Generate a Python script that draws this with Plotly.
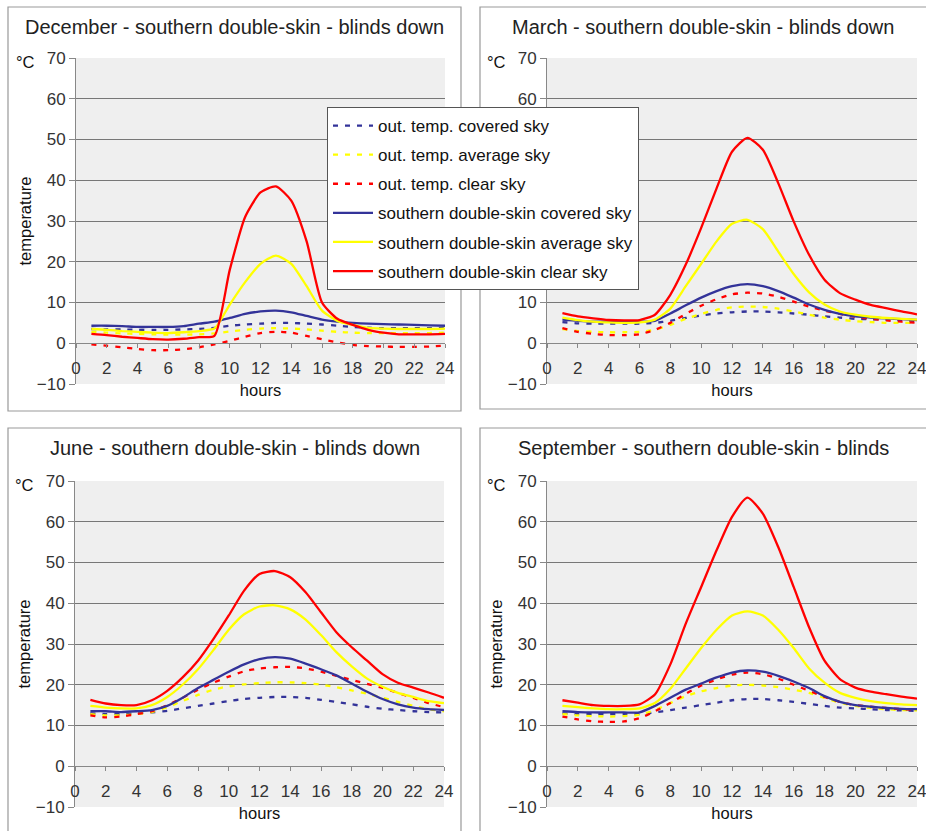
import plotly.graph_objects as go

hours = list(range(1, 25))

# December
dec_out_covered = [3.5, 3.4, 3.4, 3.3, 3.3, 3.3, 3.4, 3.5, 3.8, 4.3, 4.6, 4.8, 5.0, 5.0, 4.8, 4.6, 4.3, 4.0, 3.8, 3.7, 3.7, 3.7, 3.7, 3.7]
dec_out_average = [2.8, 2.6, 2.4, 2.3, 2.2, 2.1, 2.1, 2.2, 2.4, 2.9, 3.3, 3.6, 3.7, 3.6, 3.4, 3.1, 2.8, 2.6, 2.5, 2.5, 2.5, 2.5, 2.5, 2.6]
dec_out_clear = [-0.3, -0.6, -1.0, -1.4, -1.7, -1.7, -1.5, -1.0, -0.3, 0.6, 1.6, 2.5, 2.8, 2.6, 1.8, 1.0, 0.2, -0.4, -0.7, -0.8, -0.9, -0.9, -0.8, -0.6]
dec_ds_covered = [4.3, 4.3, 4.2, 4.0, 4.0, 4.0, 4.2, 4.8, 5.3, 6.2, 7.2, 7.8, 8.0, 7.6, 6.7, 5.8, 5.3, 5.0, 4.8, 4.7, 4.6, 4.5, 4.4, 4.3]
dec_ds_average = [3.5, 3.3, 3.0, 2.8, 2.6, 2.5, 2.7, 3.0, 3.6, 9.5, 15.0, 19.5, 21.5, 19.5, 14.0, 8.0, 5.5, 4.5, 3.8, 3.6, 3.5, 3.5, 3.5, 3.6]
dec_ds_clear = [2.3, 2.0, 1.6, 1.3, 1.0, 0.9, 1.1, 1.5, 1.8, 18.0, 31.0, 37.0, 38.5, 35.0, 25.0, 10.0, 6.0, 4.5, 3.3, 2.6, 2.2, 2.2, 2.2, 2.3]

# March
mar_out_covered = [5.2, 4.9, 4.8, 4.8, 4.8, 4.8, 5.0, 5.5, 6.2, 6.8, 7.3, 7.6, 7.8, 7.8, 7.6, 7.3, 7.0, 6.6, 6.3, 6.0, 5.9, 5.8, 5.6, 5.5]
mar_out_average = [3.5, 3.0, 2.8, 2.7, 2.7, 2.8, 3.3, 4.5, 6.0, 7.2, 8.2, 8.8, 9.0, 8.9, 8.5, 7.8, 7.0, 6.3, 5.8, 5.4, 5.2, 5.0, 5.0, 5.0]
mar_out_clear = [3.7, 2.8, 2.3, 2.0, 2.0, 2.2, 3.3, 5.0, 7.2, 9.2, 10.8, 12.0, 12.4, 12.2, 11.4, 10.2, 9.0, 8.0, 7.2, 6.5, 6.0, 5.6, 5.3, 5.0]
mar_ds_covered = [5.8, 5.5, 5.3, 5.3, 5.3, 5.3, 5.5, 7.3, 9.3, 11.2, 12.8, 14.0, 14.5, 14.0, 12.8, 11.2, 9.5, 8.2, 7.2, 6.6, 6.3, 6.1, 5.9, 5.7]
mar_ds_average = [6.3, 5.7, 5.3, 5.1, 5.0, 5.1, 5.8, 8.5, 14.0, 19.5, 25.0, 29.3, 30.3, 28.0, 22.5, 17.0, 12.5, 9.5, 7.8, 7.0, 6.5, 6.2, 6.0, 5.8]
mar_ds_clear = [7.4, 6.6, 6.1, 5.7, 5.6, 5.7, 7.0, 11.9, 19.3, 28.3, 38.0, 47.0, 50.4, 47.5, 39.3, 29.9, 21.7, 15.6, 12.3, 10.7, 9.4, 8.6, 7.8, 7.1]

# June
jun_out_covered = [13.0, 12.8, 12.8, 13.0, 13.2, 13.6, 14.2, 14.8, 15.4, 16.0, 16.5, 16.8, 17.0, 17.0, 16.8, 16.3, 15.8, 15.2, 14.6, 14.1, 13.8, 13.5, 13.3, 13.2]
jun_out_average = [12.8, 12.5, 12.5, 12.8, 13.3, 14.5, 16.0, 17.5, 18.8, 19.6, 20.1, 20.4, 20.6, 20.6, 20.4, 20.0, 19.4, 18.6, 17.8, 16.8, 15.8, 14.8, 14.0, 13.5]
jun_out_clear = [12.5, 12.0, 12.2, 12.8, 13.5, 15.0, 16.8, 18.8, 20.5, 22.0, 23.3, 24.0, 24.3, 24.4, 24.0, 23.2, 22.2, 21.2, 20.2, 19.2, 18.0, 16.8, 15.5, 14.5]
jun_ds_covered = [13.5, 13.5, 13.3, 13.5, 13.8, 14.8, 16.8, 19.2, 21.2, 23.2, 25.0, 26.3, 26.8, 26.4, 25.2, 23.8, 22.3, 20.3, 18.3, 16.5, 15.2, 14.4, 14.0, 13.8]
jun_ds_average = [14.8, 14.4, 14.2, 14.2, 15.0, 17.0, 20.0, 23.8, 28.5, 33.5, 37.3, 39.2, 39.5, 38.5, 36.0, 32.2, 28.0, 24.5, 21.5, 19.5, 18.0, 17.0, 16.0, 15.5]
jun_ds_clear = [16.3, 15.4, 15.0, 15.0, 16.2, 18.5, 21.8, 25.9, 31.2, 37.0, 43.1, 47.2, 47.9, 46.4, 42.7, 37.8, 32.9, 29.2, 25.9, 22.6, 20.5, 19.3, 18.1, 16.8]

# September
sep_out_covered = [13.0, 12.8, 12.8, 12.8, 12.8, 12.8, 13.2, 13.8, 14.4, 15.0, 15.6, 16.2, 16.5, 16.5, 16.2, 15.8, 15.3, 14.8, 14.4, 14.2, 14.0, 13.8, 13.7, 13.6]
sep_out_average = [12.8, 12.5, 12.3, 12.2, 12.3, 12.6, 13.8, 15.5, 17.2, 18.4, 19.2, 19.8, 20.0, 19.8, 19.4, 18.8, 18.0, 16.8, 15.6, 14.8, 14.3, 14.0, 13.8, 13.7]
sep_out_clear = [12.2, 11.5, 11.0, 10.9, 11.0, 11.8, 13.5, 15.5, 17.8, 19.8, 21.3, 22.5, 23.0, 22.6, 21.5, 20.0, 18.5, 17.0, 15.8, 15.0, 14.6, 14.3, 14.0, 13.8]
sep_ds_covered = [13.5, 13.3, 13.2, 13.2, 13.2, 13.2, 14.8, 16.8, 18.8, 20.3, 21.8, 23.0, 23.5, 23.2, 22.2, 20.8, 19.2, 17.2, 15.8, 15.0, 14.6, 14.3, 14.1, 14.0]
sep_ds_average = [14.8, 14.5, 14.2, 14.0, 14.0, 14.2, 15.5, 19.0, 24.0, 29.0, 33.5, 37.0, 38.0, 37.0, 33.5, 29.0, 24.0, 20.5, 18.0, 16.8, 16.0, 15.5, 15.2, 15.0]
sep_ds_clear = [16.2, 15.6, 15.0, 14.8, 14.8, 15.2, 17.6, 25.0, 35.0, 44.0, 53.0, 61.2, 65.9, 62.0, 53.8, 44.0, 34.1, 25.9, 21.4, 19.3, 18.3, 17.7, 17.1, 16.6]

series_names = [
    "out. temp. covered sky",
    "out. temp. average sky",
    "out. temp. clear sky",
    "southern double-skin covered sky",
    "southern double-skin average sky",
    "southern double-skin clear sky",
]
panel_titles = [
    "December - southern double-skin - blinds down",
    "March - southern double-skin - blinds down",
    "June - southern double-skin - blinds down",
    "September - southern double-skin - blinds",
]
x_ticks = list(range(0, 25, 2))
y_ticks = list(range(-10, 71, 10))

panels = [
    [dec_out_covered, dec_out_average, dec_out_clear, dec_ds_covered, dec_ds_average, dec_ds_clear],
    [mar_out_covered, mar_out_average, mar_out_clear, mar_ds_covered, mar_ds_average, mar_ds_clear],
    [jun_out_covered, jun_out_average, jun_out_clear, jun_ds_covered, jun_ds_average, jun_ds_clear],
    [sep_out_covered, sep_out_average, sep_out_clear, sep_ds_covered, sep_ds_average, sep_ds_clear],
]

W, H = 926, 831
FONT = "Liberation Sans, Arial, sans-serif"

colors = ["#333399", "#ffff00", "#ff0000", "#333399", "#ffff00", "#ff0000"]
dashes = ["5px,7px", "5px,7px", "5px,7px", "solid", "solid", "solid"]

# pixel geometry of each plot area: (left, right, top, bottom)
areas = [(76, 445, 58, 384), (547, 917, 58, 384), (75, 444, 481, 807), (547, 917, 481, 807)]
boxes = [(8, 461, 7, 411), (480, 930, 7, 409), (8, 461, 428, 840), (480, 930, 428, 840)]

fig = go.Figure()
layout = dict(
    width=W, height=H, autosize=False,
    margin=dict(l=0, r=0, t=0, b=0, autoexpand=False),
    paper_bgcolor="white", plot_bgcolor="#efefef",
    font=dict(family=FONT, color="#222222", size=16),
    showlegend=True,
    legend=dict(
        x=327 / W, y=1 - 107 / H, xanchor="left", yanchor="top",
        bgcolor="white", bordercolor="#555555", borderwidth=1,
        font=dict(size=17, family=FONT, color="#111111"),
        itemwidth=40, tracegroupgap=4, traceorder="grouped",
    ),
)
shapes = []
annotations = []

for p in range(4):
    sfx = "" if p == 0 else str(p + 1)
    L, R, T, B = areas[p]
    xd = [L / W, R / W]
    yd = [1 - B / H, 1 - T / H]
    for i, ys in enumerate(panels[p]):
        fig.add_trace(go.Scatter(
            x=hours, y=ys, mode="lines", name=series_names[i],
            line=dict(color=colors[i], width=2.3, dash=dashes[i], shape="spline", smoothing=0.6),
            xaxis="x" + sfx, yaxis="y" + sfx,
            showlegend=(p == 0), legendgroup=f"g{i}",
        ))
    ypos = yd[0] + (yd[1] - yd[0]) * (10 / 80)
    layout["xaxis" + sfx] = dict(
        domain=xd, range=[0, 24], anchor="free", position=ypos, automargin=False,
        tickmode="array", tickvals=x_ticks, ticks="outside", ticklen=4,
        tickcolor="#888888", showline=True, linecolor="#888888", linewidth=1,
        showgrid=False, zeroline=False, ticklabeloverflow="allow", ticklabelstandoff=5,
        tickfont=dict(size=17, color="#333333"),
        title=dict(text="hours", font=dict(size=16.5, color="#111111"), standoff=7),
    )
    layout["yaxis" + sfx] = dict(
        domain=yd, range=[-10, 70], anchor="x" + sfx, automargin=False,
        tickmode="array", tickvals=y_ticks, ticks="outside", ticklen=6,
        tickcolor="#888888", showline=True, linecolor="#888888", linewidth=1,
        showgrid=False, zeroline=False,
        tickfont=dict(size=17, color="#333333"),
        minor=dict(tickmode="array", tickvals=[10, 20, 30, 40, 50, 60], showgrid=True,
                   gridcolor="#777777", gridwidth=1, ticklen=0),
        title=dict(text="temperature" if p != 1 else "", font=dict(size=16.5, color="#111111"), standoff=0),
    )
    bl, br, bt, bb = boxes[p]
    shapes.append(dict(type="rect", xref="paper", yref="paper",
                       x0=bl / W, x1=br / W, y0=1 - bb / H, y1=1 - bt / H,
                       line=dict(color="#999999", width=1.2), fillcolor="rgba(0,0,0,0)", layer="below"))
    annotations.append(dict(text=panel_titles[p], xref="paper", yref="paper",
                            x=(bl + min(br, W)) / 2 / W, y=1 - (bt + 20) / H,
                            xanchor="center", yanchor="middle", showarrow=False,
                            font=dict(size=20, color="#222222", family=FONT)))
    annotations.append(dict(text="°C", xref="paper", yref="paper",
                            x=(L - 62) / W, y=1 - (T + 4) / H, xanchor="left", yanchor="middle",
                            showarrow=False, font=dict(size=16.5, color="#111111", family=FONT)))

layout["shapes"] = shapes
layout["annotations"] = annotations
fig.update_layout(**layout)
fig.write_html("out.html")
